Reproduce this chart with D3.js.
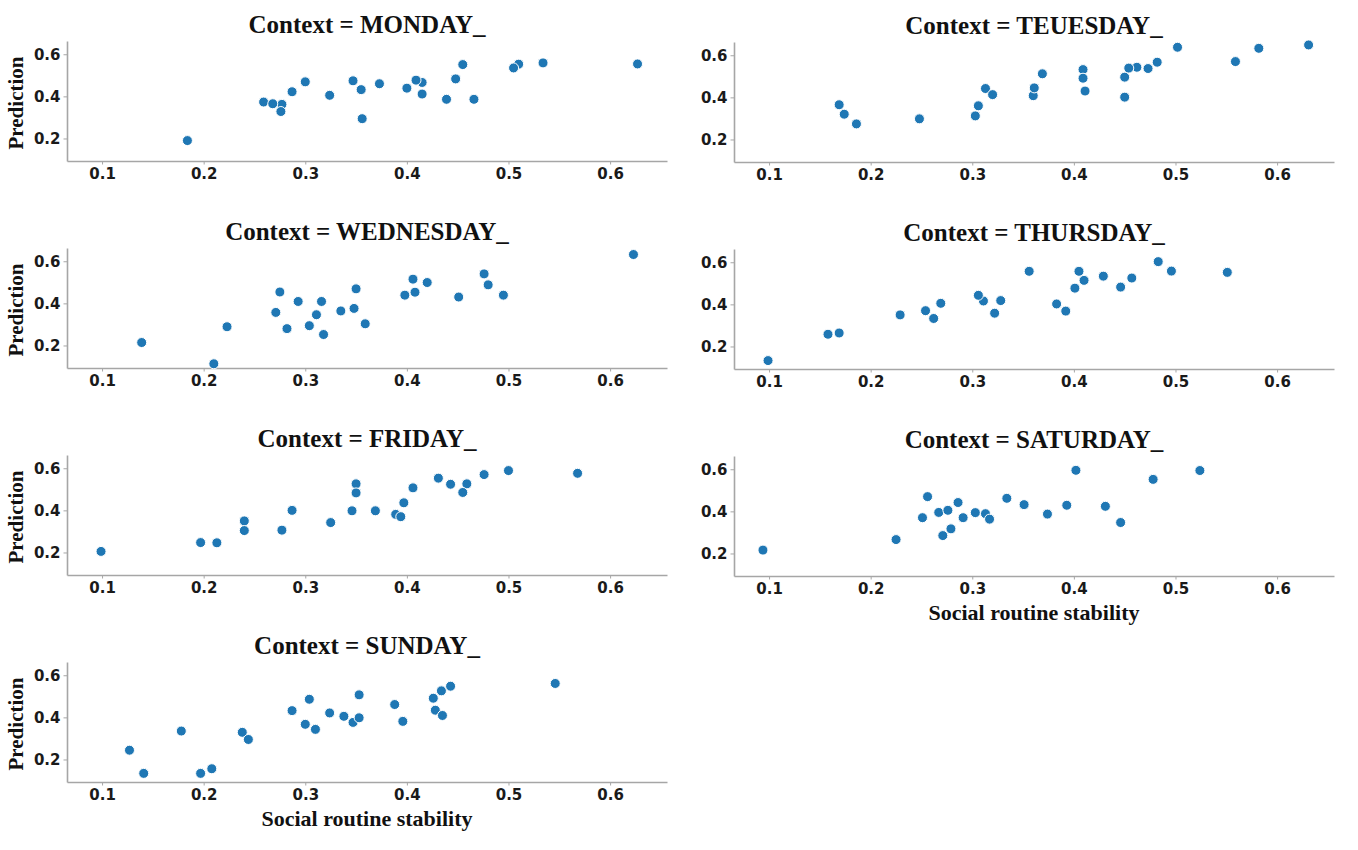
<!DOCTYPE html>
<html lang="en">
  <head>
    <meta charset="UTF-8">
    <script src="https://cdn.jsdelivr.net/npm/d3@7"></script>
    <style>
      body { margin: 0; background: #fff; }
    </style>
    <title>Prediction by social routine stability</title>
  </head>
  <body>
    <script type="text/javascript">
      // Facet grid of scatter plots, one panel per weekday context

      let days = ['MONDAY_', 'TEUESDAY_', 'WEDNESDAY_', 'THURSDAY_', 'FRIDAY_', 'SATURDAY_', 'SUNDAY_'];
      let xTicks = [0.1, 0.2, 0.3, 0.4, 0.5, 0.6];
      let yTicks = [0.2, 0.4, 0.6];

      let mondayX = [0.184, 0.259, 0.277, 0.268, 0.276, 0.287, 0.300, 0.324, 0.347, 0.355, 0.356, 0.373, 0.400,
                     0.415, 0.409, 0.415, 0.439, 0.448, 0.455, 0.466, 0.510, 0.505, 0.534, 0.627];
      let mondayY = [0.190, 0.373, 0.362, 0.365, 0.328, 0.422, 0.469, 0.405, 0.474, 0.432, 0.294, 0.460, 0.439,
                     0.466, 0.477, 0.411, 0.386, 0.483, 0.551, 0.386, 0.553, 0.535, 0.559, 0.554];

      let tuesdayX = [0.169, 0.174, 0.186, 0.248, 0.303, 0.306, 0.313, 0.320, 0.360, 0.361, 0.369, 0.409, 0.409,
                      0.411, 0.450, 0.450, 0.462, 0.454, 0.473, 0.482, 0.502, 0.559, 0.582, 0.631];
      let tuesdayY = [0.365, 0.320, 0.274, 0.298, 0.312, 0.360, 0.442, 0.413, 0.408, 0.445, 0.512, 0.532, 0.491,
                      0.430, 0.496, 0.401, 0.543, 0.539, 0.537, 0.567, 0.638, 0.570, 0.633, 0.649];

      let wednesdayX = [0.139, 0.210, 0.223, 0.271, 0.275, 0.282, 0.293, 0.304, 0.311, 0.316, 0.318, 0.335, 0.348,
                        0.350, 0.359, 0.398, 0.406, 0.408, 0.420, 0.451, 0.476, 0.480, 0.495, 0.623];
      let wednesdayY = [0.214, 0.113, 0.289, 0.357, 0.454, 0.280, 0.409, 0.294, 0.346, 0.409, 0.252, 0.364, 0.376,
                        0.469, 0.303, 0.439, 0.515, 0.453, 0.499, 0.430, 0.540, 0.488, 0.439, 0.632];

      let thursdayX = [0.099, 0.158, 0.169, 0.229, 0.254, 0.262, 0.269, 0.311, 0.306, 0.322, 0.328, 0.356, 0.383,
                       0.392, 0.401, 0.405, 0.410, 0.429, 0.446, 0.457, 0.483, 0.496, 0.551];
      let thursdayY = [0.133, 0.258, 0.264, 0.350, 0.370, 0.333, 0.405, 0.416, 0.443, 0.358, 0.418, 0.557, 0.402,
                       0.368, 0.477, 0.557, 0.514, 0.534, 0.482, 0.525, 0.603, 0.558, 0.552];

      let fridayX = [0.099, 0.197, 0.213, 0.240, 0.240, 0.277, 0.287, 0.325, 0.346, 0.350, 0.350, 0.369, 0.389,
                     0.394, 0.397, 0.406, 0.431, 0.443, 0.459, 0.455, 0.476, 0.500, 0.568];
      let fridayY = [0.205, 0.247, 0.246, 0.350, 0.304, 0.306, 0.400, 0.342, 0.398, 0.526, 0.483, 0.398, 0.381,
                     0.370, 0.436, 0.507, 0.553, 0.524, 0.526, 0.485, 0.570, 0.589, 0.576];

      let saturdayX = [0.094, 0.225, 0.251, 0.256, 0.267, 0.271, 0.276, 0.279, 0.286, 0.291, 0.303, 0.313, 0.317,
                       0.334, 0.351, 0.374, 0.393, 0.402, 0.431, 0.446, 0.478, 0.524];
      let saturdayY = [0.216, 0.266, 0.370, 0.470, 0.395, 0.285, 0.405, 0.317, 0.442, 0.370, 0.394, 0.389, 0.363,
                       0.462, 0.432, 0.387, 0.429, 0.595, 0.424, 0.347, 0.552, 0.594];

      let sundayX = [0.127, 0.141, 0.178, 0.197, 0.208, 0.238, 0.244, 0.287, 0.300, 0.304, 0.310, 0.324, 0.338,
                     0.347, 0.353, 0.353, 0.388, 0.396, 0.426, 0.428, 0.434, 0.435, 0.443, 0.546];
      let sundayY = [0.244, 0.134, 0.335, 0.134, 0.156, 0.329, 0.295, 0.432, 0.367, 0.486, 0.343, 0.421, 0.405,
                     0.376, 0.398, 0.507, 0.461, 0.381, 0.491, 0.434, 0.526, 0.409, 0.548, 0.561];

      let seriesX = [mondayX, tuesdayX, wednesdayX, thursdayX, fridayX, saturdayX, sundayX];
      let seriesY = [mondayY, tuesdayY, wednesdayY, thursdayY, fridayY, saturdayY, sundayY];

      let w = 1358;
      let h = 850;
      let pw = 600;
      let ph = 120;
      let colLeft = [67, 734];
      let rowTop = 41;
      let rowStep = 207;

      let xScale = d3.scaleLinear().domain([0.0655, 0.656]).range([0, pw]);
      let yScale = d3.scaleLinear().domain([0.093, 0.663]).range([ph, 0]);

      let svg = d3.select('body')
                  .append('svg')
                  .attr('width', w)
                  .attr('height', h);

      days.forEach((day, i) => {
        let col = i % 2;
        let row = Math.floor(i / 2);
        let g = svg.append('g')
                   .attr('transform', `translate(${colLeft[col]},${rowTop + row * rowStep + col})`);

        // Axes
        let yAxis = g.append('g')
                     .call(d3.axisLeft(yScale).tickValues(yTicks).tickFormat(d3.format('.1f'))
                             .tickSize(3.5).tickSizeOuter(0).tickPadding(3));
        let xAxis = g.append('g')
                     .attr('transform', `translate(0,${ph})`)
                     .call(d3.axisBottom(xScale).tickValues(xTicks).tickFormat(d3.format('.1f'))
                             .tickSize(3.5).tickSizeOuter(0).tickPadding(4));

        [xAxis, yAxis].forEach(a => {
          a.select('.domain').attr('stroke', '#a6a6a6').attr('stroke-width', 1.6);
          a.selectAll('.tick line').attr('stroke', '#a6a6a6').attr('stroke-width', 1);
          a.selectAll('.tick text')
           .attr('font-family', 'DejaVu Sans')
           .attr('font-weight', 'bold')
           .attr('font-size', '15px')
           .attr('fill', '#1a1a1a');
        });

        // Points
        g.selectAll('circle')
         .data(seriesX[i].map((x, j) => [x, seriesY[i][j]]))
         .enter()
         .append('circle')
         .attr('cx', d => xScale(d[0]))
         .attr('cy', d => yScale(d[1]))
         .attr('r', 5)
         .attr('fill', '#1f77b4')
         .attr('stroke', '#ffffff')
         .attr('stroke-width', 1);

        // Title
        g.append('text')
         .text('Context = ' + day)
         .attr('x', pw / 2)
         .attr('y', -8)
         .attr('text-anchor', 'middle')
         .attr('font-family', 'Liberation Serif')
         .attr('font-weight', 'bold')
         .attr('font-size', '25px')
         .attr('fill', '#111');

        if (col === 0) {
          g.append('text')
           .text('Prediction')
           .attr('transform', `translate(-44,${ph / 2 + 2}) rotate(-90)`)
           .attr('text-anchor', 'middle')
           .attr('font-family', 'Liberation Serif')
           .attr('font-weight', 'bold')
           .attr('font-size', '21px')
           .attr('fill', '#111');
        }

        if (i >= 5) {
          g.append('text')
           .text('Social routine stability')
           .attr('x', pw / 2)
           .attr('y', ph + 44)
           .attr('text-anchor', 'middle')
           .attr('font-family', 'Liberation Serif')
           .attr('font-weight', 'bold')
           .attr('font-size', '22px')
           .attr('fill', '#111');
        }
      });
    </script>
  </body>
</html>
